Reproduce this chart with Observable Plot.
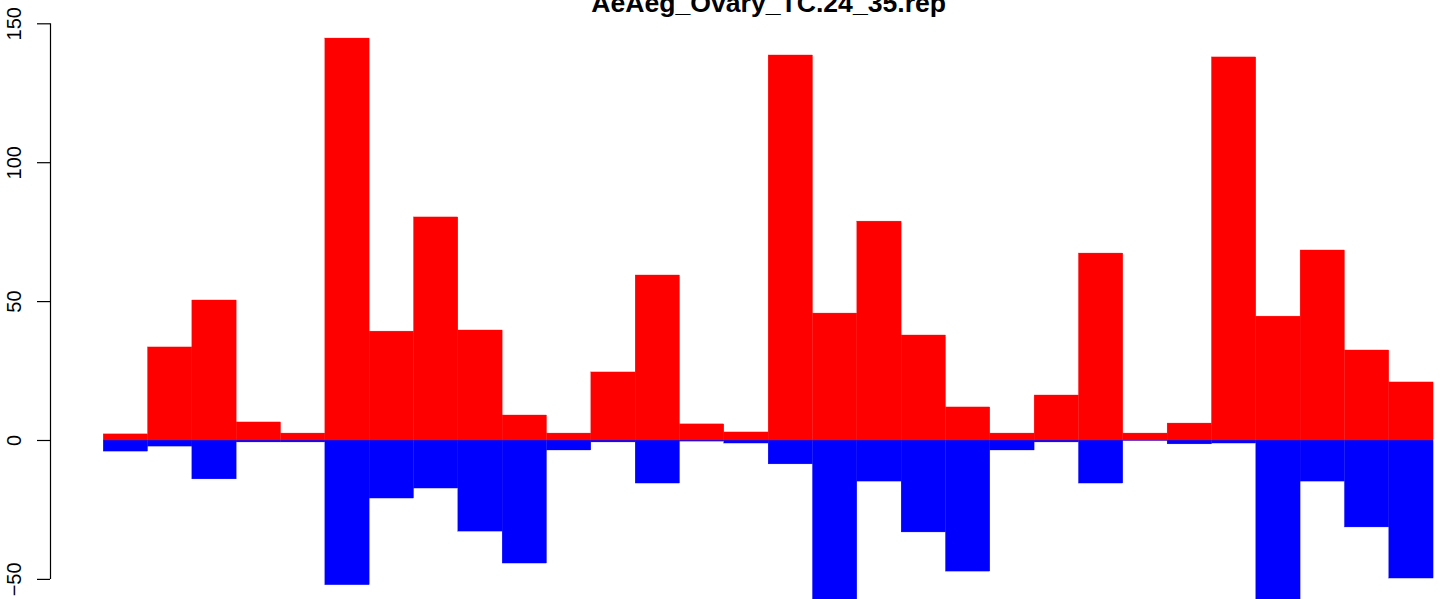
<!DOCTYPE html>
<html>
<head>
<meta charset="utf-8">
<script src="https://cdn.jsdelivr.net/npm/d3@7"></script>
<script src="https://cdn.jsdelivr.net/npm/@observablehq/plot@0.6"></script>
<style>
  html, body { margin: 0; padding: 0; background: #fff; overflow: hidden; }
  #chart svg { display: block; }
</style>
</head>
<body>
<div id="chart"></div>
<script>
const title = "AeAeg_Ovary_TC.24_35.rep";
const categories = [1,2,3,4,5,6,7,8,9,10,11,12,13,14,15,16,17,18,19,20,21,22,23,24,25,26,27,28,29,30];
const positives = [2.2, 33.5, 50.4, 6.5, 2.5, 144.7, 39.2, 80.3, 39.6, 9.0,
                   2.5, 24.5, 59.4, 5.8, 2.9, 138.6, 45.7, 78.8, 37.8, 11.9,
                   2.5, 16.2, 67.3, 2.5, 6.1, 137.9, 44.6, 68.4, 32.4, 20.9];
const negatives = [-4.0, -2.2, -14.0, -0.7, -0.7, -52.1, -20.9, -17.3, -32.8, -44.3,
                   -3.6, -0.7, -15.5, -0.4, -1.1, -8.6, -58.0, -14.8, -33.1, -47.2,
                   -3.6, -0.7, -15.5, -0.2, -1.4, -1.1, -58.0, -14.8, -31.3, -49.7];
const yTicks = [-50, 0, 50, 100, 150];
const yTickLabels = ["\u221250", "0", "50", "100", "150"];

const n = categories.length;
const xMin = -0.04 * n;            // R-style 4% expansion
const xMaxFull = n + 0.04 * n;      // full plot region (extends beyond the picture)
const xCenter = (xMin + xMaxFull) / 2;

const pos = categories.map((c, i) => ({x1: i, x2: i + 1, y: positives[i]}));
const neg = categories.map((c, i) => ({x1: i, x2: i + 1, y: negatives[i]}));
const ticks = yTicks.map((v, i) => ({v, label: yTickLabels[i]}));

const chart = Plot.plot({
  width: 1444,
  height: 599,
  marginLeft: 50,
  marginRight: 0,
  marginTop: 0,
  marginBottom: 0,
  style: {fontFamily: "'Liberation Sans', Arial, Helvetica, sans-serif", background: "#fff", overflow: "visible"},
  x: {type: "linear", domain: [xMin, 30.246], axis: null},
  y: {domain: [-57.24, 158.39], axis: null},
  marks: [
    Plot.rectY(neg, {x1: "x1", x2: "x2", y1: 0, y2: "y", fill: "#0000FF", stroke: "#0000FF", strokeWidth: 0.3}),
    Plot.rectY(pos, {x1: "x1", x2: "x2", y1: 0, y2: "y", fill: "#FF0000", stroke: "#FF0000", strokeWidth: 0.3}),
    Plot.ruleX([xMin], {y1: yTicks[0], y2: yTicks[yTicks.length - 1], stroke: "#000", strokeWidth: 1.2}),
    Plot.axisY({ticks: yTicks, tickSize: 13, tickFormat: () => "", stroke: "#000", strokeWidth: 1.2, strokeOpacity: 1, anchor: "left"}),
    Plot.text(ticks, {y: "v", text: "label", frameAnchor: "left", dx: -36, rotate: -90, textAnchor: "middle", lineAnchor: "middle", fontSize: 20, fill: "#000"}),
    Plot.text([title], {x: () => xCenter, frameAnchor: "top", lineAnchor: "middle", dy: 3.2, text: d => d, textAnchor: "middle", fontSize: 26.6, fontWeight: "bold", fill: "#000"})
  ]
});
document.getElementById("chart").appendChild(chart);
</script>
</body>
</html>
